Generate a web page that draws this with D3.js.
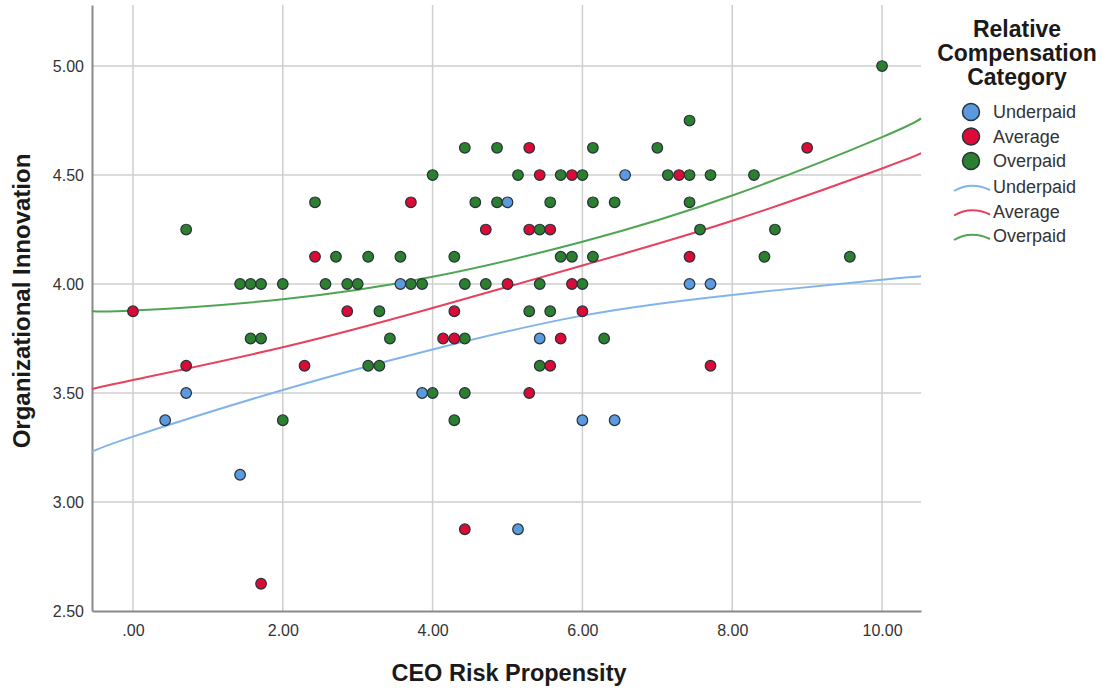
<!DOCTYPE html>
<html>
<head>
<meta charset="utf-8">
<script src="https://cdn.jsdelivr.net/npm/d3@7"></script>
<style>
  body { margin: 0; background: #fff; }
  text { font-family: "Liberation Sans", Arial, sans-serif; }
</style>
</head>
<body>
<div id="graph1"></div>
<script>
// points: [risk propensity, innovation]
var underpaid = [
    [0.43, 3.375], [0.71, 3.5], [1.43, 3.125], [3.57, 4.0], [3.86, 3.5], [5.00, 4.375],
    [5.14, 2.875], [5.43, 3.75], [6.00, 3.375], [6.43, 3.375], [6.57, 4.5], [7.43, 4.0], [7.71, 4.0]
];
var average = [
    [0.00, 3.875], [0.71, 3.625], [1.71, 2.625], [2.29, 3.625], [2.43, 4.125], [2.86, 3.875],
    [3.71, 4.375], [4.14, 3.75], [4.29, 3.875], [4.29, 3.75], [4.43, 2.875], [4.71, 4.25],
    [5.00, 4.0], [5.29, 4.625], [5.29, 4.25], [5.29, 3.5], [5.43, 4.5], [5.57, 4.25],
    [5.57, 3.625], [5.71, 3.75], [5.86, 4.5], [5.86, 4.0], [6.00, 3.875], [7.29, 4.5],
    [7.43, 4.125], [7.71, 3.625], [9.00, 4.625]
];
var overpaid = [
    [0.71, 4.25], [1.43, 4.0], [1.57, 4.0], [1.71, 4.0], [1.57, 3.75], [1.71, 3.75],
    [2.00, 4.0], [2.00, 3.375], [2.43, 4.375], [2.57, 4.0], [2.71, 4.125], [2.86, 4.0],
    [3.00, 4.0], [3.14, 4.125], [3.14, 3.625], [3.29, 3.875], [3.29, 3.625], [3.43, 3.75],
    [3.57, 4.125], [3.71, 4.0], [3.86, 4.0], [4.00, 4.5], [4.00, 3.5], [4.29, 4.125],
    [4.29, 3.375], [4.43, 4.625], [4.43, 4.0], [4.43, 3.75], [4.43, 3.5], [4.57, 4.375],
    [4.71, 4.0], [4.86, 4.625], [4.86, 4.375], [5.14, 4.5], [5.29, 3.875], [5.43, 4.25],
    [5.43, 4.0], [5.43, 3.625], [5.57, 4.375], [5.57, 3.875], [5.71, 4.5], [5.71, 4.125],
    [5.86, 4.125], [6.00, 4.5], [6.00, 4.0], [6.14, 4.625], [6.14, 4.375], [6.14, 4.125],
    [6.29, 3.75], [6.43, 4.375], [7.00, 4.625], [7.14, 4.5], [7.43, 4.75], [7.43, 4.5],
    [7.43, 4.375], [7.57, 4.25], [7.71, 4.5], [8.29, 4.5], [8.43, 4.125], [8.57, 4.25],
    [9.57, 4.125], [10.00, 5.0]
];

// fit lines
var fitX = [-0.55, 0, 2, 4, 6, 8, 10, 10.52];
var fitUnderpaid = [3.23, 3.30, 3.514, 3.70, 3.855, 3.95, 4.02, 4.036];
var fitAverage = [3.518, 3.56, 3.71, 3.89, 4.085, 4.29, 4.53, 4.60];
var fitOverpaid = [3.876, 3.878, 3.93, 4.033, 4.194, 4.406, 4.674, 4.76];

var xTicks = [0, 2, 4, 6, 8, 10];
var yTicks = [2.5, 3.0, 3.5, 4.0, 4.5, 5.0];
var categories = ["Underpaid", "Average", "Overpaid"];

var pointColor = {Underpaid: "#5b9ade", Average: "#dc0a36", Overpaid: "#2b7f2f"};
var lineColor = {Underpaid: "#82b4ea", Average: "#e8405f", Overpaid: "#4fa552"};

var w = 1109;
var h = 692;
var margin = {top: 5, bottom: 81, left: 92, right: 188};
var width = w - margin.left - margin.right;
var height = h - margin.top - margin.bottom;

var svg = d3.select("#graph1").append("svg")
    .attr("width", w)
    .attr("height", h);
var chart = svg.append("g")
    .attr("transform", "translate(" + margin.left + "," + margin.top + ")");

var x = d3.scaleLinear().domain([-0.547, 10.52]).range([0, width]);
var y = d3.scaleLinear().domain([2.5, 5.28]).range([height, 0]);

function fmt(v) {
    return d3.format(".2f")(v).replace(/^0\./, ".");
}

// grid
chart.append("g")
    .selectAll("line")
    .data(xTicks)
    .enter()
    .append("line")
    .attr("x1", function(d){ return x(d); })
    .attr("x2", function(d){ return x(d); })
    .attr("y1", 0)
    .attr("y2", height)
    .style("stroke", "#cfcfcf")
    .style("stroke-width", 1.5);
chart.append("g")
    .selectAll("line")
    .data(yTicks.slice(1))
    .enter()
    .append("line")
    .attr("x1", 0)
    .attr("x2", width)
    .attr("y1", function(d){ return y(d); })
    .attr("y2", function(d){ return y(d); })
    .style("stroke", "#cfcfcf")
    .style("stroke-width", 1.5);

// axes
var xAxis = d3.axisBottom(x).tickValues(xTicks).tickFormat(fmt).tickSize(0).tickPadding(14);
var yAxis = d3.axisLeft(y).tickValues(yTicks).tickFormat(fmt).tickSize(0).tickPadding(8);

var gx = chart.append("g")
    .attr("transform", "translate(0," + height + ")")
    .call(xAxis);
var gy = chart.append("g")
    .call(yAxis);
[gx, gy].forEach(function(g){
    g.select(".domain").style("stroke", "#8a8a8a").style("stroke-width", 2);
    g.selectAll("text").style("font-size", "16px").style("fill", "#333")
        .style("font-family", "'Liberation Sans', Arial, sans-serif");
});

// axis titles
svg.append("text")
    .attr("x", 509)
    .attr("y", 681)
    .style("text-anchor", "middle")
    .style("font-size", "23.5px")
    .style("font-weight", "bold")
    .style("fill", "#1a1a1a")
    .text("CEO Risk Propensity");
svg.append("text")
    .attr("transform", "translate(30," + 301 + ") rotate(-90)")
    .style("text-anchor", "middle")
    .style("font-size", "24px")
    .style("font-weight", "bold")
    .style("fill", "#1a1a1a")
    .text("Organizational Innovation");

// fit lines
var line = d3.line()
    .x(function(d, i){ return x(fitX[i]); })
    .y(function(d){ return y(d); })
    .curve(d3.curveNatural);
var fits = {Underpaid: fitUnderpaid, Average: fitAverage, Overpaid: fitOverpaid};
categories.forEach(function(c){
    chart.append("path")
        .attr("d", line(fits[c]))
        .style("fill", "none")
        .style("stroke", lineColor[c])
        .style("stroke-width", 2);
});

// points
var groups = {Underpaid: underpaid, Average: average, Overpaid: overpaid};
["Overpaid", "Average", "Underpaid"].forEach(function(c){
    chart.append("g")
        .selectAll("circle")
        .data(groups[c])
        .enter()
        .append("circle")
        .attr("cx", function(d){ return x(d[0]); })
        .attr("cy", function(d){ return y(d[1]); })
        .attr("r", 5.3)
        .style("fill", pointColor[c])
        .style("stroke", "#263238")
        .style("stroke-width", 1.2);
});

// legend
var legend = svg.append("g");
["Relative", "Compensation", "Category"].forEach(function(t, i){
    legend.append("text")
        .attr("x", 1017)
        .attr("y", 37 + i * 24)
        .style("text-anchor", "middle")
        .style("font-size", "23px")
        .style("font-weight", "bold")
        .style("fill", "#1a1a1a")
        .text(t);
});
categories.forEach(function(c, i){
    var cy = 112 + i * 24.5;
    legend.append("circle")
        .attr("cx", 971)
        .attr("cy", cy)
        .attr("r", 8.5)
        .style("fill", pointColor[c])
        .style("stroke", "#263238")
        .style("stroke-width", 1.5);
    legend.append("text")
        .attr("x", 993)
        .attr("y", cy + 6)
        .style("font-size", "18px")
        .style("fill", "#333")
        .text(c);
});
categories.forEach(function(c, i){
    var cy = 187 + i * 24.5;
    legend.append("path")
        .attr("d", "M954," + (cy + 4) + " Q971," + (cy - 6) + " 990," + (cy + 3))
        .style("fill", "none")
        .style("stroke", lineColor[c])
        .style("stroke-width", 2);
    legend.append("text")
        .attr("x", 993)
        .attr("y", cy + 6)
        .style("font-size", "18px")
        .style("fill", "#333")
        .text(c);
});
</script>
</body>
</html>
